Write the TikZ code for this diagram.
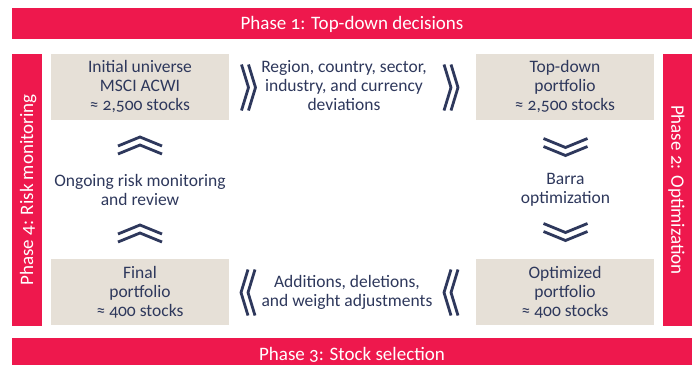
\documentclass[tikz,border=0pt]{standalone}
\usepackage{fontspec}
\setmainfont{Carlito}[Numbers=OldStyle]
\definecolor{phred}{RGB}{238,24,77}
\definecolor{beige}{RGB}{230,224,215}
\definecolor{navy}{RGB}{46,56,92}
\tikzset{
  phasebar/.style={fill=phred, text=white, inner sep=0pt, font=\fontsize{19}{22}\selectfont, text height=12.3pt, text depth=0pt},
  stagebox/.style={fill=beige, text=navy, inner sep=0pt, minimum width=178pt, minimum height=66pt, align=center, font=\fontsize{17.5}{19}\selectfont},
  stagetext/.style={text=navy, inner sep=0pt, align=center, font=\fontsize{17.5}{19}\selectfont},
  chev/.style={draw=navy, line width=2.8pt, miter limit=10},
}
\newcommand\chevpair[5]{%
  \begin{scope}[shift={#1},rotate=#2]
    \draw[chev] ({-#4/2-#5/2},#3) -- ({#4/2-#5/2},0) -- ({-#4/2-#5/2},-#3);
    \draw[chev] ({-#4/2+#5/2},#3) -- ({#4/2+#5/2},0) -- ({-#4/2+#5/2},-#3);
  \end{scope}}
\begin{document}
\begin{tikzpicture}[x=1pt,y=1pt]
\clip (0,0) rectangle (692,-365);
\fill[white] (0,0) rectangle (692,-365);
% phase bars
\node[phasebar, minimum width=690pt, minimum height=31pt] (p1) at (357,-23.5) {\hspace*{-10pt}Phase 1: Top-down decisions};
\fill[phred] (12,-338) rectangle (692,-365);
\node[text=white, inner sep=0pt, font=\fontsize{19}{22}\selectfont, text height=12.3pt, text depth=0pt] (p3) at (352,-354.5) {Phase 3: Stock selection};
\node[phasebar, rotate=90, minimum width=272pt, minimum height=30pt] (p4) at (27,-190) {Phase 4: Risk monitoring};
\fill[phred] (663,-54) rectangle (692,-326);
\node[text=white, rotate=-90, inner sep=0pt, font=\fontsize{19}{22}\selectfont, text height=12.3pt, text depth=0pt] (p2) at (677.5,-190) {Phase 2: Optimization};
% boxes
\node[stagebox] (iu) at (140,-86.5) {Initial universe\\MSCI ACWI\\≈ 2,500 stocks};
\node[stagebox] (td) at (565,-86.5) {Top-down\\portfolio\\≈ 2,500 stocks};
\node[stagebox] (op) at (565,-292) {Optimized\\portfolio\\≈ 400 stocks};
\node[stagebox] (fp) at (140,-292) {Final\\portfolio\\≈ 400 stocks};
% middle texts
\node[stagetext] (rc) at (344,-86) {Region, country, sector,\\industry, and currency\\deviations};
\node[stagetext] (bo) at (565.5,-190) {Barra\\optimization};
\node[stagetext] (ad) at (347,-292) {Additions, deletions,\\and weight adjustments};
\node[stagetext] (rm) at (140,-190) {Ongoing risk monitoring\\and review};
% chevrons
\chevpair{(248.5,-87.5)}{0}{23}{7}{7}
\chevpair{(451,-87.5)}{0}{23}{7}{7}
\chevpair{(565.5,-147)}{-90}{22}{9}{8}
\chevpair{(565.5,-232)}{-90}{22}{9}{8}
\chevpair{(248,-292.5)}{180}{23}{7}{7}
\chevpair{(451,-292.5)}{180}{23}{7}{7}
\chevpair{(140,-145.5)}{90}{22}{9}{8}
\chevpair{(140,-233.5)}{90}{22}{9}{8}
\end{tikzpicture}
\end{document}
